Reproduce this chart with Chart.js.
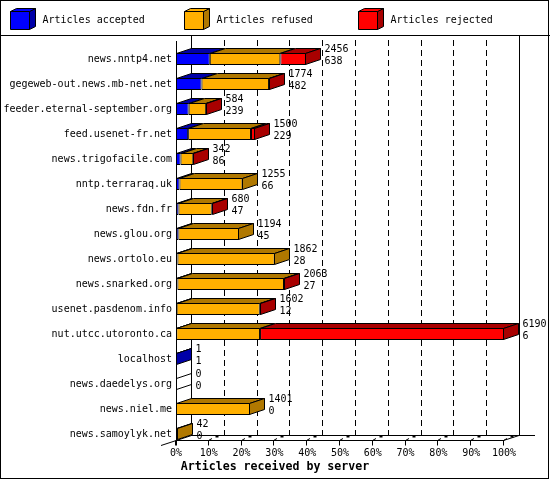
<!DOCTYPE html>
<html>
<head>
<meta charset="utf-8">
<script src="https://cdn.jsdelivr.net/npm/chart.js@4.4.1/dist/chart.umd.min.js"></script>
<style>
  html, body { margin: 0; padding: 0; background: #fff; }
  canvas { display: block; }
</style>
</head>
<body>
<canvas id="chart" width="550" height="480"></canvas>
<script>
"use strict";
const servers = [
    'news.nntp4.net', 'gegeweb-out.news.mb-net.net', 'feeder.eternal-september.org',
    'feed.usenet-fr.net', 'news.trigofacile.com', 'nntp.terraraq.uk', 'news.fdn.fr',
    'news.glou.org', 'news.ortolo.eu', 'news.snarked.org', 'usenet.pasdenom.info',
    'nut.utcc.utoronto.ca', 'localhost', 'news.daedelys.org', 'news.niel.me', 'news.samoylyk.net'
];
const accepted = [638, 482, 239, 229, 86, 66, 47, 45, 28, 27, 12, 6, 1, 0, 0, 0];
const refused = [1331, 1274, 330, 1186, 240, 1189, 628, 1149, 1834, 2011, 1570, 1580, 0, 0, 1401, 42];
const rejected = [487, 18, 15, 85, 16, 0, 5, 0, 0, 25, 20, 4604, 0, 0, 0, 0];
const seriesLabels = ['Articles accepted', 'Articles refused', 'Articles rejected'];
const faceColors = ['#0000ff', '#ffb000', '#ff0000'];
const shadeColors = ['#0000a8', '#b07800', '#a80000'];
const percentTicks = [0, 10, 20, 30, 40, 50, 60, 70, 80, 90, 100];
const axisTitle = 'Articles received by server';

const totals = servers.map((_, i) => accepted[i] + refused[i] + rejected[i]);
const maxTotal = Math.max(...totals);
const DX = 15, DY = 5;
const MONO = '"DejaVu Sans Mono", monospace';

const poly = (ctx, pts, fill) => {
    ctx.beginPath();
    pts.forEach(([x, y], j) => j ? ctx.lineTo(x, y) : ctx.moveTo(x, y));
    ctx.closePath();
    if (fill) {
        ctx.fillStyle = fill;
        ctx.fill();
    }
    ctx.stroke();
};

const line = (ctx, x1, y1, x2, y2) => {
    ctx.beginPath();
    ctx.moveTo(x1, y1);
    ctx.lineTo(x2, y2);
    ctx.stroke();
};

const depthPlugin = {
    id: 'depth3d',
    beforeDraw(chart) {
        const ctx = chart.ctx;
        ctx.save();
        ctx.fillStyle = '#fff';
        ctx.fillRect(0, 0, chart.width, chart.height);
        ctx.strokeStyle = '#000';
        ctx.lineWidth = 1;
        ctx.strokeRect(0.5, 0.5, 548, 478);
        line(ctx, 0, 35.5, 550, 35.5);
        // legend with little cubes
        ctx.font = '10px ' + MONO;
        ctx.textBaseline = 'middle';
        ctx.textAlign = 'left';
        seriesLabels.forEach((label, k) => {
            const x = 10.5 + k * 174, y = 11.5;
            poly(ctx, [[x + 19, y], [x + 25, y - 3], [x + 25, y + 15], [x + 19, y + 18]], shadeColors[k]);
            poly(ctx, [[x, y], [x + 6, y - 3], [x + 25, y - 3], [x + 19, y]], faceColors[k]);
            poly(ctx, [[x, y], [x + 19, y], [x + 19, y + 18], [x, y + 18]], faceColors[k]);
            ctx.fillStyle = '#000';
            ctx.fillText(label, x + 32, 20);
        });
        ctx.restore();
    },
    beforeDatasetsDraw(chart) {
        const ctx = chart.ctx;
        const xs = chart.scales.x;
        const left = chart.chartArea.left, right = chart.chartArea.right;
        const front = 440.5, back = front - DY;
        ctx.save();
        ctx.strokeStyle = '#000';
        ctx.lineWidth = 1;
        // back wall grid
        percentTicks.forEach(p => {
            const bx = Math.round(xs.getPixelForValue(maxTotal * p / 100)) + DX + 0.5;
            if (p === 0 || p === 100) {
                ctx.setLineDash([]);
                line(ctx, bx, 36, bx, back);
            } else {
                ctx.setLineDash([6, 4]);
                line(ctx, bx, 40, bx, back);
            }
        });
        ctx.setLineDash([]);
        // floor and front axis
        line(ctx, left + 0.5, 41, left + 0.5, front + 5);
        line(ctx, left - DX, front + DY, left + DX + 0.5, back);
        line(ctx, left + DX, back, right + 31, back);
        line(ctx, left, front, right, front);
        line(ctx, right - 0.5, front, right + DX, back);
        percentTicks.forEach(p => {
            const fx = Math.round(xs.getPixelForValue(maxTotal * p / 100)) - 0.5;
            line(ctx, fx, front, fx, front + 5);
            if (p > 0) {
                line(ctx, fx, front, fx + 3.5, front - 2);
                ctx.fillStyle = '#000';
                ctx.fillRect(fx + 7, back, 3, 2);
            }
        });
        ctx.restore();
    },
    afterDatasetsDraw(chart) {
        const ctx = chart.ctx;
        const metas = [0, 1, 2].map(k => chart.getDatasetMeta(k));
        ctx.save();
        ctx.strokeStyle = '#000';
        ctx.lineWidth = 1;
        ctx.font = '10px ' + MONO;
        ctx.textBaseline = 'middle';
        ctx.textAlign = 'left';
        servers.forEach((_, i) => {
            const bars = metas.map(m => m.data[i].getProps(['x', 'y', 'base', 'height'], true));
            const yc = bars[0].y;
            const top = Math.round(yc - 6) + 0.5, bottom = Math.round(yc + 6) - 0.5;
            let endX = Math.round(bars[0].base) + 0.5, lastK = -1;
            const values = [accepted[i], refused[i], rejected[i]];
            values.forEach((v, k) => {
                if (v <= 0) return;
                const x0 = Math.round(bars[k].base) + 0.5;
                const x1 = Math.max(x0, Math.round(bars[k].x) - 0.5);
                poly(ctx, [[x0, top], [x1, top], [x1 + DX, top - DY], [x0 + DX, top - DY]], shadeColors[k]);
                endX = x1;
                lastK = k;
            });
            poly(ctx, [[endX, top], [endX + DX, top - DY], [endX + DX, bottom - DY], [endX, bottom]],
                lastK >= 0 ? shadeColors[lastK] : null);
            ctx.fillStyle = '#000';
            ctx.fillText(String(totals[i]), endX + DX + 4, yc - 10);
            ctx.fillText(String(accepted[i]), endX + DX + 4, yc + 2);
        });
        ctx.restore();
    },
    afterDraw(chart) {
        const ctx = chart.ctx;
        ctx.save();
        ctx.fillStyle = '#000';
        ctx.font = 'bold 11.6px ' + MONO;
        ctx.textAlign = 'center';
        ctx.textBaseline = 'middle';
        ctx.fillText(axisTitle, 275, 467);
        ctx.restore();
    }
};

const ctx = document.getElementById('chart').getContext('2d');
new Chart(ctx, {
    type: 'bar',
    data: {
        labels: servers,
        datasets: [accepted, refused, rejected].map((values, k) => ({
            label: seriesLabels[k],
            data: values,
            backgroundColor: faceColors[k],
            borderColor: '#000',
            borderWidth: 1,
            borderSkipped: false,
            barThickness: 12,
            inflateAmount: 0,
        })),
    },
    options: {
        responsive: false,
        animation: false,
        indexAxis: 'y',
        layout: { padding: { left: 4, top: 46.5, right: 46, bottom: 19.5 } },
        plugins: {
            legend: { display: false },
            tooltip: { enabled: false },
        },
        scales: {
            x: {
                stacked: true,
                min: 0,
                max: maxTotal,
                grid: { display: false, drawTicks: false },
                border: { display: false },
                afterBuildTicks: (scale) => {
                    scale.ticks = percentTicks.map(p => ({ value: maxTotal * p / 100 }));
                },
                afterFit: (scale) => { scale.height = 14; },
                ticks: {
                    autoSkip: false,
                    maxRotation: 0,
                    padding: 1,
                    color: '#000',
                    font: { family: MONO, size: 10 },
                    callback: (value) => Math.round(value / maxTotal * 100) + '%',
                },
            },
            y: {
                stacked: true,
                grid: { display: false, drawTicks: false },
                border: { display: false },
                afterFit: (scale) => { scale.width = 172; },
                ticks: {
                    autoSkip: false,
                    padding: 4,
                    color: '#000',
                    font: { family: MONO, size: 10 },
                },
            },
        },
    },
    plugins: [depthPlugin],
});
</script>
</body>
</html>
